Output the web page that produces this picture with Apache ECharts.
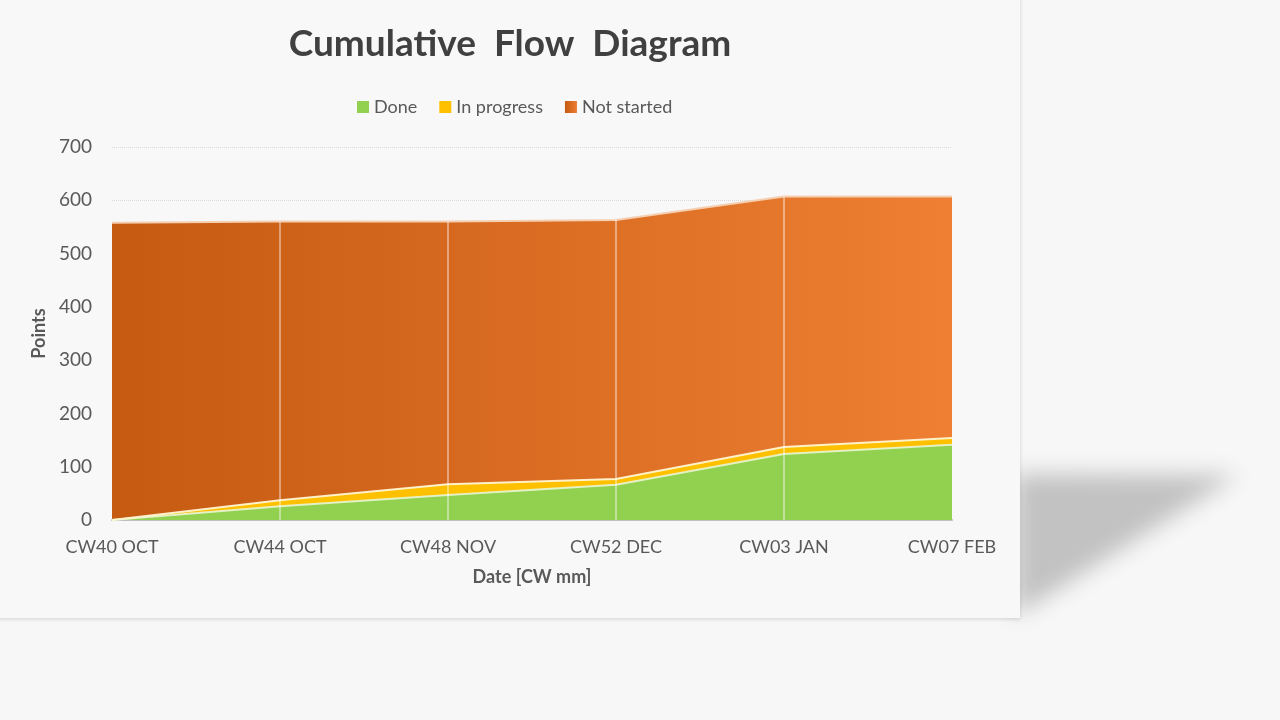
<!DOCTYPE html>
<html><head><meta charset="utf-8">
<script src="https://cdn.jsdelivr.net/npm/echarts@6/dist/echarts.min.js"></script>
<style>html,body{margin:0;padding:0;background:#f4f4f4;}#c{width:1280px;height:720px;}</style>
</head><body><div id="c"></div>
<script>
const categories = ['CW40 OCT','CW44 OCT','CW48 NOV','CW52 DEC','CW03 JAN','CW07 FEB'];
const done = [0, 26, 47, 66, 124, 141];
const inProgress = [0, 11, 20, 11, 13, 13];
const notStarted = [558, 523, 493, 486, 470, 453];
const yTicks = [0, 700, 100];

const totals = categories.map((c, i) => done[i] + inProgress[i] + notStarted[i]);
const font = 'Lato, "Open Sans", sans-serif';
const chart = echarts.init(document.getElementById('c'));
const vLines = categories.slice(1, 5).map((c, k) => [{coord: [c, 0]}, {coord: [c, totals[k + 1]]}]);
const OFF = 3000;

chart.setOption({
  animation: false,
  backgroundColor: '#f7f7f7',
  textStyle: {fontFamily: font},
  graphic: [
    {type: 'polygon', z: -10, shape: {points: [[1015 + OFF, 474], [1238 + OFF, 475], [1015 + OFF, 616]]},
     style: {fill: '#c4c4c4', shadowBlur: 22, shadowOffsetX: -OFF, shadowColor: '#c2c2c2'}, silent: true},
    {type: 'rect', z: -9, shape: {x: -5, y: -5, width: 1025, height: 623},
     style: {fill: '#f8f8f8', shadowBlur: 4, shadowOffsetY: 1, shadowColor: 'rgba(0,0,0,0.15)'}, silent: true}
  ],
  title: {
    text: 'Cumulative  Flow  Diagram', left: 505, top: 21, textAlign: 'center',
    textStyle: {fontFamily: font, fontSize: 37, fontWeight: 'bold', color: '#404040'}
  },
  legend: {
    top: 93, left: 352, itemWidth: 12, itemHeight: 12, itemGap: 22,
    icon: 'rect',
    textStyle: {fontFamily: font, fontSize: 18, color: '#595959'},
    data: ['Done', 'In progress', 'Not started']
  },
  grid: {left: 112, right: 328, top: 147, bottom: 200},
  xAxis: {
    type: 'category', data: categories, boundaryGap: false,
    name: 'Date [CW mm]', nameLocation: 'middle', nameGap: 48,
    nameTextStyle: {fontFamily: font, fontSize: 18, fontWeight: 'bold', color: '#595959'},
    axisLine: {lineStyle: {color: '#bfbfbf', width: 2}},
    axisTick: {show: false},
    axisLabel: {fontFamily: font, fontSize: 18, color: '#595959', margin: 18},
    splitLine: {show: false}
  },
  yAxis: {
    type: 'value', min: yTicks[0], max: yTicks[1], interval: yTicks[2],
    name: 'Points', nameLocation: 'middle', nameGap: 58,
    nameTextStyle: {fontFamily: font, fontSize: 18, fontWeight: 'bold', color: '#595959'},
    axisLine: {show: false}, axisTick: {show: false},
    axisLabel: {fontFamily: font, fontSize: 19, color: '#595959', margin: 20},
    splitLine: {lineStyle: {color: '#d9d9d9', type: 'dotted', width: 1}}
  },
  series: [
    {name: 'Done', type: 'line', stack: 'cfd', data: done, symbol: 'none',
     itemStyle: {color: '#92d050'},
     lineStyle: {color: 'rgba(230,245,210,0.9)', width: 2},
     areaStyle: {color: '#92d050', opacity: 1}},
    {name: 'In progress', type: 'line', stack: 'cfd', data: inProgress, symbol: 'none',
     itemStyle: {color: '#ffc000'},
     lineStyle: {color: 'rgba(255,245,210,0.95)', width: 2},
     areaStyle: {color: '#ffc000', opacity: 1}},
    {name: 'Not started', type: 'line', stack: 'cfd', data: notStarted, symbol: 'none',
     itemStyle: {color: new echarts.graphic.LinearGradient(0, 0, 1, 0, [{offset: 0, color: '#c55a11'}, {offset: 1, color: '#ed7d31'}])},
     lineStyle: {color: '#f5cfb2', width: 2},
     areaStyle: {opacity: 1, color: new echarts.graphic.LinearGradient(0, 0, 1, 0, [{offset: 0, color: '#c55a11'}, {offset: 1, color: '#ee7f33'}])},
     markLine: {silent: true, symbol: 'none', label: {show: false},
       lineStyle: {color: 'rgba(255,255,255,0.55)', width: 1.5, type: 'solid'},
       emphasis: {disabled: true}, data: vLines}}
  ]
});
</script></body></html>
